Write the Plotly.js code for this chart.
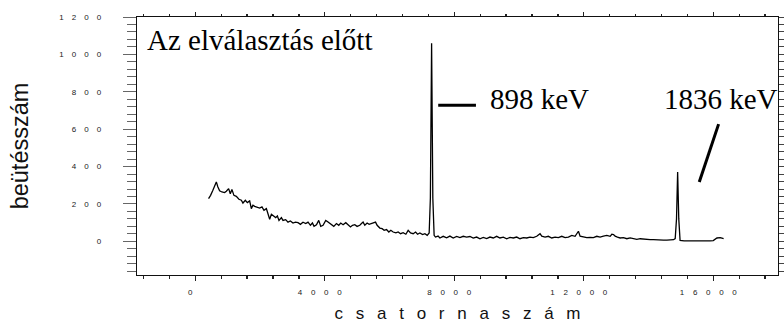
<!DOCTYPE html>
<html>
<head>
<meta charset="utf-8">
<script src="https://cdn.plot.ly/plotly-3.0.1.min.js"></script>
<style>html,body{margin:0;padding:0;background:#fff;}#chart{width:784px;height:324px;}</style>
</head>
<body>
<div id="chart"></div>
<script>
// Spectrum: channel numbers and counts
const channels = [410,473,544,597,650,699,752,823,906,959,1030,1082,1132,1194,1268,1349,1423,1472,1547,1608,
1680,1732,1782,1834,1905,1989,2060,2122,2196,2246,2298,2351,2422,2484,2536,2586,2660,2710,2793,2864,
2938,3019,3093,3174,3248,3328,3412,3483,3557,3619,3668,3743,3814,3876,3947,4030,4101,
4207,4278,4361,4432,4494,4565,4649,4720,4794,4856,4927,4998,5082,5134,5184,5237,5308,5370,5444,5515,
5568,5617,5701,5772,5834,5908,5979,6041,6112,6196,6267,6341,6421,6505,6576,6650,6731,6805,6867,6938,
7021,7093,7164,7225,7262,7300,7338,7378,7420,7500,
7556,7659,7764,7866,7968,8073,8175,8277,8382,8484,8586,8691,8794,8896,9001,9103,9205,9310,9412,9514,
9620,9722,9824,9929,10031,10133,10238,10340,10442,10547,10650,10702,10804,10906,11011,11114,11216,11321,11423,11525,
11630,11732,11835,11887,11989,12094,12196,12298,12403,12505,12607,12713,12815,12867,12917,12969,13041,13124,13226,13331,
13433,13535,13640,13743,13845,13950,14052,14154,14259,14361,14463,14568,14671,14773,14825,14865,14900,14935,14975,
15100,15300,15500,15700,15900,16000,16060,16114,16217,16270,16320];
const counts = [229,246,273,295,318,291,270,264,261,268,282,255,277,246,241,225,220,205,220,207,
216,175,193,187,184,178,184,166,175,152,118,145,134,127,136,112,127,112,116,103,
109,98,103,100,91,102,95,103,86,98,80,89,112,80,86,112,103,
91,80,95,86,98,89,100,86,77,86,89,80,86,95,103,86,98,91,95,98,
103,86,71,68,59,63,50,59,50,45,50,41,46,38,59,45,41,50,38,45,
36,41,32,45,230,1060,230,32,23,28,
18,27,19,28,18,26,20,27,23,26,17,23,14,21,15,23,18,27,18,22,
14,21,18,23,14,20,18,23,20,27,41,28,23,27,18,23,20,27,20,23,
32,27,54,28,23,20,21,20,27,23,28,32,27,38,36,28,23,18,20,14,
18,14,11,14,11,9,9,9,7,7,7,7,7,9,15,120,371,120,5,
2,3,2,3,2,4,14,18,20,16,14];

const xTickVals = [0,4000,8000,12000,16000];
const yTickVals = [0,200,400,600,800,1000,1200];
const peakLabels = ['898 keV','1836 keV'];
const panelLabel = 'Az elválasztás előtt';
const xTitle = 'csatornaszám';
const yTitle = 'beütésszám';

const spacedY = s => String(s).split('').join('\u2003');
const spacedX = s => String(s).split('').join('\u2003\u200A');
const spacedTitle = s => s.split('').join('\u2002\u2005');

const sans = '"Liberation Sans", Arial, sans-serif';
const tickFont = {family:sans, size:8, color:'#222'};
const serif = {family:'"Liberation Serif", "Times New Roman", serif', size:29, color:'#000'};
const xr = [-1800, 18000], yr = [-180, 1200];

const data = [
  {x:channels, y:counts, type:'scatter', mode:'lines', line:{color:'#000', width:1.3}, hoverinfo:'skip', showlegend:false},
  {x:channels, y:counts, xaxis:'x2', yaxis:'y2', type:'scatter', mode:'none', hoverinfo:'skip', showlegend:false}
];

const layout = {
  width:784, height:324,
  margin:{l:137, r:6, t:17, b:49},
  paper_bgcolor:'#fff', plot_bgcolor:'#fff',
  showlegend:false,
  xaxis:{range:xr, tickvals:xTickVals, ticktext:xTickVals.map(spacedX), tickfont:tickFont,
    ticks:'outside', ticklen:5, tickwidth:1.3, tickcolor:'#222',
    minor:{dtick:800, tick0:0, ticks:'outside', ticklen:2.5, tickwidth:1.3, tickcolor:'#222'},
    showline:true, linecolor:'#111', linewidth:1.3, showgrid:false, zeroline:false,
    ticklabelstandoff:4, ticklabelshift:-5,
    title:{text:spacedTitle(xTitle), font:{family:sans, size:17, color:'#111'}, standoff:11}},
  yaxis:{range:yr, tickvals:yTickVals, ticktext:yTickVals.map(spacedY), tickfont:tickFont,
    ticks:'outside', ticklen:13, tickwidth:1, tickcolor:'#666',
    minor:{dtick:40, tick0:0, ticks:'outside', ticklen:9, tickwidth:1, tickcolor:'#666'},
    showline:true, linecolor:'#111', linewidth:1.3, showgrid:false, zeroline:false,
    ticklabelstandoff:20,
    title:{text:'\u2002' + yTitle, font:{family:sans, size:23.5, color:'#111'}, standoff:24}},
  xaxis2:{overlaying:'x', side:'top', range:xr, matches:'x', tickvals:xTickVals, showticklabels:false,
    ticks:'outside', ticklen:4, tickwidth:1.3, tickcolor:'#222',
    minor:{dtick:800, tick0:0, ticks:'outside', ticklen:2, tickwidth:1.3, tickcolor:'#222'},
    showline:true, linecolor:'#111', linewidth:1.3, showgrid:false, zeroline:false},
  yaxis2:{overlaying:'y', side:'right', range:yr, matches:'y', tickvals:yTickVals, showticklabels:false,
    ticks:'outside', ticklen:5, tickwidth:1, tickcolor:'#444',
    minor:{dtick:40, tick0:0, ticks:'outside', ticklen:5, tickwidth:1, tickcolor:'#444'},
    showline:true, linecolor:'#111', linewidth:1.3, showgrid:false, zeroline:false},
  shapes:[
    {type:'line', xref:'x', yref:'y', x0:7504, x1:8670, y0:728, y1:728, line:{color:'#000', width:3}},
    {type:'line', xref:'x', yref:'y', x0:16165, y0:627, x1:15568, y1:318, line:{color:'#000', width:3}}
  ],
  annotations:[
    {xref:'x', yref:'y', x:-1560, y:1079, xanchor:'left', yanchor:'middle', text:panelLabel, showarrow:false, font:serif},
    {xref:'x', yref:'y', x:9035, y:764, xanchor:'left', yanchor:'middle', text:peakLabels[0], showarrow:false, font:serif},
    {xref:'x', yref:'y', x:14404, y:764, xanchor:'left', yanchor:'middle', text:peakLabels[1], showarrow:false, font:serif}
  ]
};

Plotly.newPlot('chart', data, layout, {staticPlot:true, displayModeBar:false});
</script>
</body>
</html>
